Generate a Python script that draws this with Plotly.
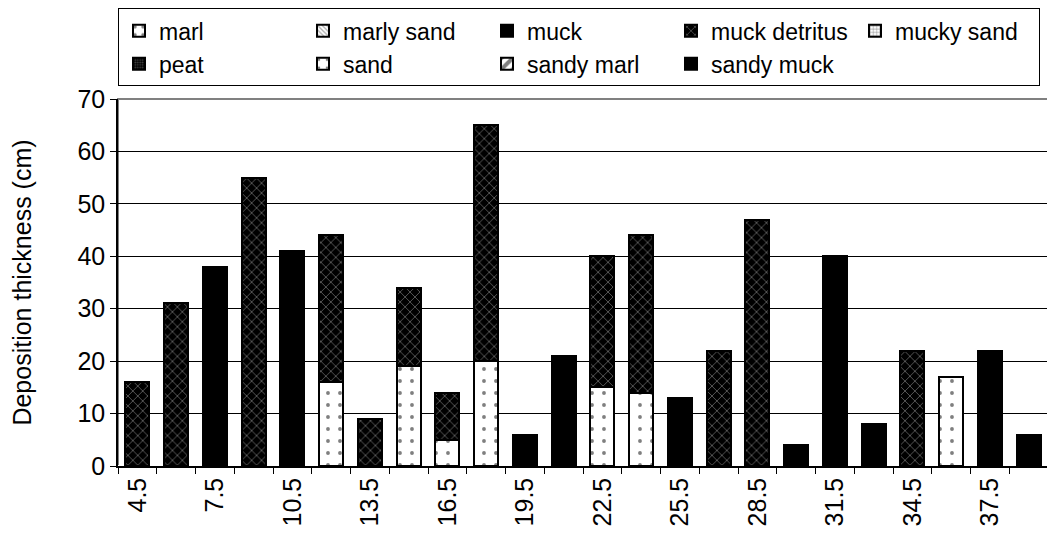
import plotly.graph_objects as go

# depth classes (cm) along the core
depths = ["4.5", "6", "7.5", "9", "10.5", "12", "13.5", "15", "16.5", "18", "19.5", "21",
          "22.5", "24", "25.5", "27", "28.5", "30", "31.5", "33", "34.5", "36", "37.5", "39"]

sand = [None, None, None, None, None, 16, None, 19, 5, 20, None, None,
        15, 14, None, None, None, None, None, None, None, 17, None, None]
muck = [None, None, 38, None, 41, None, None, None, None, None, 6, 21,
        None, None, 13, None, None, 4, 40, 8, None, None, 22, 6]
muck_detritus = [16, 31, None, 55, None, 28, 9, 15, 9, 45, None, None,
                 25, 30, None, 22, 47, None, None, None, 22, None, None, None]

tick_labels = [d if i % 2 == 0 else "" for i, d in enumerate(depths)]
y_ticks = [0, 10, 20, 30, 40, 50, 60, 70]

FONT = "Liberation Sans, Arial, sans-serif"
empty = [None] * len(depths)

fig = go.Figure()

def add_bar(name, y, rank, bg, fg="black", shape="", size=8, solidity=0.3):
    fig.add_trace(go.Bar(
        x=depths, y=y, name=name, legendrank=rank,
        marker=dict(
            color=bg,
            line=dict(color="black", width=2),
            pattern=dict(shape=shape, fgcolor=fg, bgcolor=bg, size=size,
                         solidity=solidity, fillmode="overlay"),
        ),
    ))

# stacking order: sand at the bottom, detritus on top
add_bar("sand", sand, 7, "white", shape=".", size=12, solidity=0.08)
add_bar("muck", muck, 3, "black")
add_bar("muck detritus", muck_detritus, 4, "black", fg="#b4b4b4", shape="x", size=7, solidity=0.25)

# legend-only classes (no occurrences in this core)
add_bar("marl", empty, 1, "white", shape=".", size=10, solidity=0.15)
add_bar("marly sand", empty, 2, "white", fg="#555555", shape="\\", size=4, solidity=0.4)
add_bar("mucky sand", empty, 5, "white", shape="+", size=4, solidity=0.3)
add_bar("peat", empty, 6, "black", fg="#888888", shape=".", size=3, solidity=0.4)
add_bar("sandy marl", empty, 8, "white", shape="/", size=14, solidity=0.5)
add_bar("sandy muck", empty, 9, "black", fg="white", shape="", size=8)

# the page body adds an 8px offset, so the figure is 8px smaller than the window
fig.update_layout(
    barmode="stack",
    bargap=0.38,
    width=1047, height=534,
    margin=dict(l=110, r=7, t=91, b=76, autoexpand=False),
    plot_bgcolor="white", paper_bgcolor="white",
    font=dict(family=FONT, size=24, color="black"),
    showlegend=True,
    legend=dict(
        orientation="h",
        traceorder="normal",
        x=0.0, y=1.247, xanchor="left", yanchor="top",
        entrywidth=139, entrywidthmode="pixels",
        bordercolor="black", borderwidth=1,
        font=dict(size=23),
        itemclick=False,
    ),
    xaxis=dict(
        type="category",
        tickmode="array", tickvals=depths, ticktext=tick_labels,
        tickangle=-90,
        tickson="boundaries",
        ticks="outside", ticklen=6, tickcolor="black",
        showline=True, linecolor="black", linewidth=1.5,
        showgrid=False,
        tickfont=dict(size=25),
        automargin=False,
    ),
    yaxis=dict(
        range=[0, 70],
        tickvals=y_ticks,
        ticks="outside", ticklen=6, tickcolor="black",
        showline=True, linecolor="black", linewidth=1.5,
        showgrid=True, gridcolor="black", gridwidth=1,
        title=dict(text="Deposition thickness (cm)", standoff=48, font=dict(size=25)),
        tickfont=dict(size=25),
        automargin=False,
    ),
    shapes=[dict(type="rect", xref="paper", yref="paper", x0=0, x1=1, y0=0, y1=1,
                 line=dict(color="#808080", width=2), layer="below")],
)

fig.write_html("out.html")
